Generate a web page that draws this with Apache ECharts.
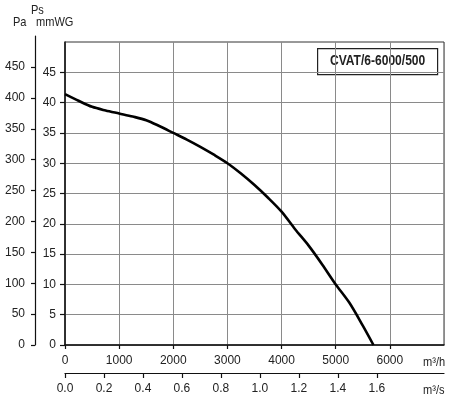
<!DOCTYPE html>
<html>
<head>
<meta charset="utf-8">
<script src="https://cdn.jsdelivr.net/npm/echarts@6/dist/echarts.min.js"></script>
<style>
  html, body { margin: 0; padding: 0; background: #fff; }
  #chart { width: 450px; height: 399px; }
</style>
</head>
<body>
<div id="chart"></div>
<script>
// fan curve, static pressure vs air flow
const flowM3h = [0, 250, 500, 750, 1000, 1250, 1500, 1750, 2000, 2250, 2500, 2750, 3000,
  3250, 3500, 3750, 4000, 4250, 4500, 4750, 5000, 5250, 5500, 5697];
const pressureMmWG = [41.4, 40.3, 39.3, 38.7, 38.2, 37.7, 37.1, 36.1, 35.0, 33.9, 32.7, 31.4, 30.0,
  28.3, 26.4, 24.3, 22.0, 19.1, 16.4, 13.3, 10.0, 7.0, 3.2, 0];

const flowTicks = [0, 1000, 2000, 3000, 4000, 5000, 6000];
const flowM3sTicks = [0, 0.2, 0.4, 0.6, 0.8, 1.0, 1.2, 1.4, 1.6];
const mmWGTicks = [0, 5, 10, 15, 20, 25, 30, 35, 40, 45];
const paTicks = [0, 50, 100, 150, 200, 250, 300, 350, 400, 450];

const modelName = 'CVAT/6-6000/500';

const FONT = "'Liberation Sans', Arial, sans-serif";
const labelStyle = { color: '#222', fontSize: 12, fontFamily: FONT };

const chart = echarts.init(document.getElementById('chart'), null, { renderer: 'canvas' });

const plotLeft = 65;
const plotRight = 6;
const plotWidth = 450 - plotLeft - plotRight;
const plotTop = 42;
const plotBottom = 54;
const plotHeight = 399 - plotTop - plotBottom;
const flowMax = 7000;
const mmMax = 50;
const paTop = 36;
const m3sOffset = 28;
// Pa axis uses the same px scale as mmWG (1 mmWG = 9.81 Pa)
const paMax = (399 - paTop - plotBottom) / plotHeight * mmMax * 9.81;

const lastFlowTick = flowTicks[flowTicks.length - 1];
const lastM3sTick = flowM3sTicks[flowM3sTicks.length - 1];

const narrowText = (text, left, top) => ({
  type: 'text', left, top, scaleX: 0.85,
  style: { text, font: `13px ${FONT}`, fill: '#222' }
});

// thin strip under an axis line, its split lines act as the tick marks
const tickStrip = (gridIndex, max) => ({
  type: 'value', gridIndex, min: 0, max,
  axisLine: { show: false }, axisTick: { show: false }, axisLabel: { show: false },
  splitLine: { show: true, lineStyle: { color: '#111', width: 1.2 } }
});
const hiddenY = (gridIndex) => ({ type: 'value', gridIndex, show: false, min: 0, max: 1, splitLine: { show: false } });

const option = {
  animation: false,
  backgroundColor: '#fff',
  grid: [
    {
      left: plotLeft, right: plotRight, top: plotTop, bottom: plotBottom,
      show: true, borderColor: '#333', borderWidth: 1, backgroundColor: 'transparent'
    },
    { left: 35, width: 1, top: paTop, bottom: plotBottom, show: false },
    { left: plotLeft, width: plotWidth * lastFlowTick / flowMax, top: plotTop + plotHeight, height: 4 },
    { left: plotLeft, width: plotWidth * lastM3sTick * 3600 / flowMax, top: plotTop + plotHeight + m3sOffset, height: 5 }
  ],
  xAxis: [
    {
      type: 'value', gridIndex: 0, min: 0, max: flowMax, interval: 1000,
      axisLine: { show: true, lineStyle: { color: '#111', width: 1.5 } },
      axisTick: { show: false },
      axisLabel: { ...labelStyle, margin: 10, customValues: flowTicks, formatter: (v) => String(v) },
      splitLine: { show: true, lineStyle: { color: '#8a8a8a', width: 1 } }
    },
    {
      type: 'value', gridIndex: 0, position: 'bottom', offset: m3sOffset,
      min: 0, max: flowMax / 3600, interval: 0.2,
      axisLine: { show: true, lineStyle: { color: '#111', width: 1.2 } },
      axisTick: { show: false },
      axisLabel: { ...labelStyle, margin: 10, customValues: flowM3sTicks, formatter: (v) => v.toFixed(1) },
      splitLine: { show: false }
    },
    { type: 'value', gridIndex: 1, show: false, min: 0, max: 1 },
    { ...tickStrip(2, lastFlowTick), interval: 1000 },
    { ...tickStrip(3, lastM3sTick), interval: 0.2 }
  ],
  yAxis: [
    {
      type: 'value', gridIndex: 0, min: 0, max: mmMax, interval: 5,
      axisLine: { show: true, lineStyle: { color: '#111', width: 1.5 } },
      axisTick: { show: true, length: 5, customValues: mmWGTicks, lineStyle: { color: '#111', width: 1.2 } },
      axisLabel: { ...labelStyle, margin: 9, customValues: mmWGTicks },
      splitLine: { show: true, lineStyle: { color: '#8a8a8a', width: 1 } }
    },
    {
      type: 'value', gridIndex: 1, min: 0, max: paMax,
      axisLine: { show: true, lineStyle: { color: '#111', width: 1.2 } },
      axisTick: { show: true, length: 4, customValues: paTicks, lineStyle: { color: '#111', width: 1.2 } },
      axisLabel: { ...labelStyle, margin: 10, customValues: paTicks },
      splitLine: { show: false }
    },
    hiddenY(2),
    hiddenY(3)
  ],
  series: [
    {
      type: 'line',
      xAxisIndex: 0,
      yAxisIndex: 0,
      data: flowM3h.map((f, i) => [f, pressureMmWG[i]]),
      smooth: 0.3,
      showSymbol: false,
      lineStyle: { color: '#000', width: 2.6 },
      clip: false
    }
  ],
  graphic: [
    narrowText('Pa', 13, 16),
    narrowText('Ps', 31, 4),
    narrowText('mmWG', 36, 16),
    narrowText('m³/h', 423, 356),
    narrowText('m³/s', 423, 384),
    {
      type: 'group', left: 317, top: 48,
      children: [
        { type: 'rect', shape: { x: 0, y: 0, width: 120, height: 26 }, style: { fill: '#fff', stroke: '#222', lineWidth: 1.2 } },
        {
          type: 'text', x: 60, y: 13, scaleX: 0.86,
          style: { text: modelName, font: `bold 14px ${FONT}`, fill: '#222', align: 'center', verticalAlign: 'middle' }
        }
      ]
    }
  ]
};

chart.setOption(option);
window.addEventListener('resize', () => chart.resize());
</script>
</body>
</html>
